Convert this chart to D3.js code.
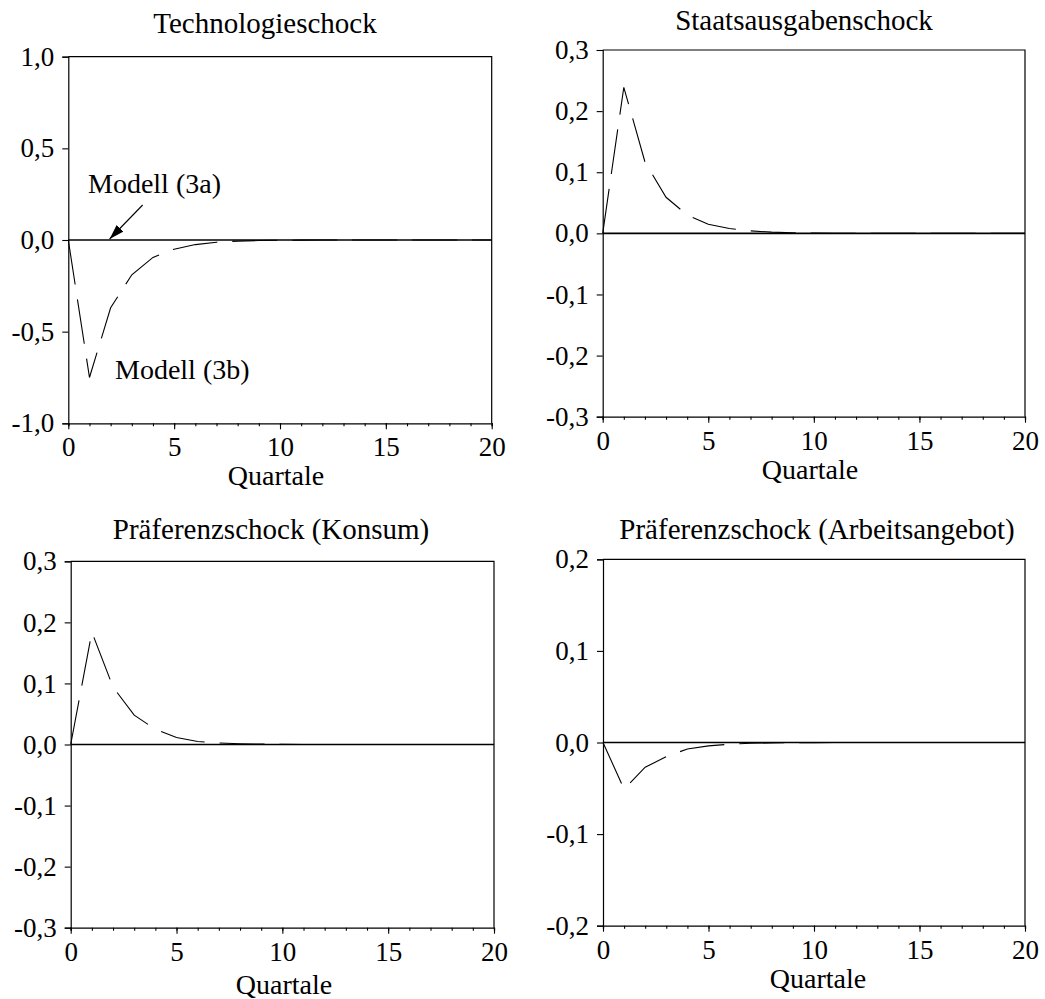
<!DOCTYPE html>
<html>
<head>
<meta charset="utf-8">
<script src="https://cdn.jsdelivr.net/npm/d3@7"></script>
<style>
  html, body { margin: 0; padding: 0; background: #fff; }
  svg text { font-family: "Liberation Serif", "Times New Roman", serif; fill: #000; }
</style>
</head>
<body>
<svg id="chart" width="1045" height="999"></svg>
<script>
// Quartale 0..20
const quarters = d3.range(0, 21);

// Model (3a): no response to any shock
const modelA = quarters.map(() => 0);

// Model (3b) impulse responses
const techB  = [0, -0.75, -0.37, -0.19, -0.095, -0.05, -0.025, -0.012, -0.006, -0.003, -0.0015, -0.0008, -0.0004, -0.0002, -0.0001, 0, 0, 0, 0, 0, 0];
const govB   = [0, 0.239, 0.117, 0.059, 0.030, 0.015, 0.008, 0.004, 0.002, 0.001, 0.0005, 0.0002, 0.0001, 0, 0, 0, 0, 0, 0, 0, 0];
const prefCB = [0, 0.184, 0.094, 0.048, 0.025, 0.0115, 0.005, 0.0025, 0.0012, 0.0006, 0.0003, 0.0001, 0, 0, 0, 0, 0, 0, 0, 0, 0];
const prefLB = [0, -0.051, -0.027, -0.0155, -0.007, -0.0037, -0.0018, -0.0009, -0.0004, -0.0002, -0.0001, 0, 0, 0, 0, 0, 0, 0, 0, 0, 0];

const titles = ["Technologieschock", "Staatsausgabenschock", "Präferenzschock (Konsum)", "Präferenzschock (Arbeitsangebot)"];
const yDomains = [[-1, 1], [-0.3, 0.3], [-0.3, 0.3], [-0.2, 0.2]];
const yTicks = [
    [-1, -0.5, 0, 0.5, 1],
    [-0.3, -0.2, -0.1, 0, 0.1, 0.2, 0.3],
    [-0.3, -0.2, -0.1, 0, 0.1, 0.2, 0.3],
    [-0.2, -0.1, 0, 0.1, 0.2]
];
const seriesB = [techB, govB, prefCB, prefLB];
const xMajor = [0, 5, 10, 15, 20];
const xLabel = "Quartale";

// layout of the four panels (plot rectangle, title and axis-label anchors)
const layout = [
    { left: 68.3, right: 491.7, top: 56.7, bottom: 423.3, titleX: 265, titleY: 33, qX: 276, qY: 485 },
    { left: 602.7, right: 1025, top: 50, bottom: 416.7, titleX: 804, titleY: 30, qX: 810, qY: 479 },
    { left: 70.7, right: 494, top: 561.3, bottom: 927.7, titleX: 271, titleY: 539, qX: 284, qY: 994 },
    { left: 603, right: 1025, top: 559.3, bottom: 925.7, titleX: 817, titleY: 539, qX: 818, qY: 988 }
];

const de = d3.formatLocale({ decimal: ",", thousands: ".", grouping: [3], currency: ["", " €"], minus: "-" });
const fmt = de.format(".1f");

const svg = d3.select("#chart");

svg.append("defs").append("marker")
    .attr("id", "arrow")
    .attr("viewBox", "0 0 10 10")
    .attr("refX", 10).attr("refY", 5)
    .attr("markerWidth", 15).attr("markerHeight", 15)
    .attr("markerUnits", "userSpaceOnUse")
    .attr("orient", "auto")
    .append("path")
    .attr("d", "M0,1.8L10,5L0,8.2Z")
    .attr("fill", "#000");

layout.forEach((L, i) => {
    const x = d3.scaleLinear().domain([0, 20]).range([L.left, L.right]);
    const y = d3.scaleLinear().domain(yDomains[i]).range([L.bottom, L.top]);
    const g = svg.append("g").attr("class", "panel");

    // title
    g.append("text")
        .attr("x", L.titleX)
        .attr("y", L.titleY)
        .attr("text-anchor", "middle")
        .style("font-size", "29px")
        .text(titles[i]);

    // frame (top + right)
    g.append("path")
        .attr("d", `M${L.left},${L.top}H${L.right}V${L.bottom}`)
        .attr("fill", "none")
        .attr("stroke", "#000")
        .attr("stroke-width", 1.2);

    // y axis
    g.append("g")
        .attr("transform", `translate(${L.left},0)`)
        .call(d3.axisLeft(y).tickValues(yTicks[i]).tickFormat(fmt).tickSize(6).tickPadding(8));

    // x axis: minor ticks every quarter, labels at multiples of 5
    g.append("g")
        .attr("transform", `translate(0,${L.bottom})`)
        .call(d3.axisBottom(x).tickValues(quarters).tickSize(3).tickFormat(""));
    g.append("g")
        .attr("transform", `translate(0,${L.bottom})`)
        .call(d3.axisBottom(x).tickValues(xMajor).tickSize(6).tickPadding(8).tickFormat(d3.format("d")))
        .call(a => a.select(".domain").remove());

    g.selectAll(".domain").attr("stroke-width", 1.2);
    g.selectAll(".tick line").attr("stroke-width", 1.1);
    g.selectAll(".tick text")
        .style("font-family", "'Liberation Serif', 'Times New Roman', serif")
        .style("font-size", "27px");

    // x axis label
    g.append("text")
        .attr("x", L.qX)
        .attr("y", L.qY)
        .attr("text-anchor", "middle")
        .style("font-size", "28px")
        .text(xLabel);

    const line = d3.line()
        .x((d, j) => x(quarters[j]))
        .y(d => y(d));

    // Modell (3b) dashed
    g.append("path")
        .datum(seriesB[i])
        .attr("d", line)
        .attr("fill", "none")
        .attr("stroke", "#000")
        .attr("stroke-width", 1.1)
        .attr("stroke-dasharray", "45,15");

    // Modell (3a) solid
    g.append("path")
        .datum(modelA)
        .attr("d", line)
        .attr("fill", "none")
        .attr("stroke", "#000")
        .attr("stroke-width", 1.6);

    if (i === 0) {
        // annotations in the technology panel
        g.append("line")
            .attr("x1", x(2) + 32).attr("y1", y(0) - 35)
            .attr("x2", x(2) - 1).attr("y2", y(0) - 1)
            .attr("stroke", "#000")
            .attr("stroke-width", 1.1)
            .attr("marker-end", "url(#arrow)");

        g.append("text")
            .attr("x", 88).attr("y", 193)
            .style("font-size", "28px")
            .text("Modell (3a)");
        g.append("text")
            .attr("x", 115).attr("y", 379)
            .style("font-size", "28px")
            .text("Modell (3b)");
    }
});
</script>
</body>
</html>
